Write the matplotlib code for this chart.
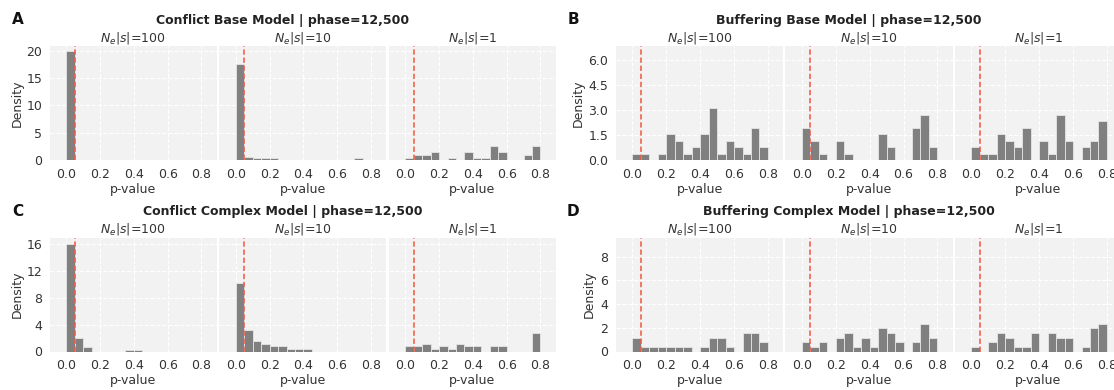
import numpy as np
import matplotlib
matplotlib.use("Agg")
from matplotlib import pyplot as plt

# bin edges of the p-value histograms (width 0.05)
bin_edges = np.linspace(0, 0.8, 17)
p_cut = 0.05
ne_labels = ["$N_e|s|$=100", "$N_e|s|$=10", "$N_e|s|$=1"]

# densities, one value per bin
conflict_base_100 = [19.9, 0, 0, 0, 0, 0, 0, 0, 0, 0, 0, 0, 0, 0, 0, 0]
conflict_base_10 = [17.5, 0.6, 0.3, 0.3, 0.3, 0, 0, 0, 0, 0, 0, 0, 0, 0, 0.3, 0]
conflict_base_1 = [0.33, 0.98, 0.98, 1.41, 0, 0.3, 0, 1.41, 0.3, 0.3, 2.64, 1.41, 0, 0, 0.98, 2.64]

buffer_base_100 = [0.39, 0.39, 0, 0.39, 1.56, 1.17, 0.39, 0.78, 1.56, 3.12, 0.39, 1.17, 0.78, 0.39, 1.95, 0.78]
buffer_base_10 = [1.95, 1.17, 0.39, 0, 1.17, 0.39, 0, 0, 0, 1.56, 0.78, 0, 0, 1.95, 2.73, 0.78]
buffer_base_1 = [0.78, 0.39, 0.39, 1.56, 1.17, 0.78, 1.95, 0, 1.17, 0.39, 2.73, 1.17, 0, 0.78, 1.17, 2.34]

conflict_cplx_100 = [15.9, 1.95, 0.7, 0, 0, 0, 0, 0.25, 0.25, 0, 0, 0, 0, 0, 0, 0]
conflict_cplx_10 = [10.1, 3.15, 1.57, 1.15, 0.76, 0.76, 0.35, 0.35, 0.35, 0, 0, 0, 0, 0, 0, 0]
conflict_cplx_1 = [0.78, 0.78, 1.17, 0.39, 0.78, 0.39, 1.17, 0.78, 0.78, 0, 0.78, 0.78, 0, 0, 0, 2.73]

buffer_cplx_100 = [1.17, 0.39, 0.39, 0.39, 0.39, 0.39, 0.39, 0, 0.39, 1.17, 1.17, 0.39, 0, 1.56, 1.56, 0.78]
buffer_cplx_10 = [0.78, 0.39, 0.78, 0, 1.17, 1.56, 0.39, 1.17, 0.39, 1.95, 1.56, 0.78, 0, 0.78, 2.34, 1.17]
buffer_cplx_1 = [0.39, 0, 0.78, 1.56, 1.17, 0.39, 0.39, 1.56, 0, 1.56, 1.17, 1.17, 0, 0.39, 1.95, 2.34]

W, H = 1114, 390
FS = 9
fig = plt.figure(figsize=(W / 100, H / 100), dpi=100)

def px_axes(left, top, width, height):
    return fig.add_axes([left / W, 1 - (top + height) / H, width / W, height / H])

def draw_panel(letter, title, series, lefts, top, width, ymax, yticks, yfmt, title_x, ylab_x):
    for i, (vals, lab) in enumerate(zip(series, ne_labels)):
        ax = px_axes(lefts[i], top, width, 114)
        ax.set_facecolor("#f2f2f2")
        ax.set_axisbelow(True)
        ax.grid(True, color="white", ls="--", lw=0.8)
        ax.bar(bin_edges[:-1], vals, width=0.05, align="edge", color="#808080",
               edgecolor="#e6e6e6", linewidth=0.6)
        ax.axvline(p_cut, color="#f0583f", ls="--", lw=1.1, dashes=(3.5, 1.8))
        ax.set_xlim(-0.097, 0.889)
        ax.set_ylim(0, ymax)
        ax.set_xticks([0, 0.2, 0.4, 0.6, 0.8])
        ax.set_xticklabels(["0.0", "0.2", "0.4", "0.6", "0.8"])
        ax.set_yticks(yticks)
        for s in ax.spines.values():
            s.set_visible(False)
        ax.tick_params(length=0, labelsize=FS, colors="#333333", pad=5.5)
        ax.set_title(lab, fontsize=FS, color="#333333", pad=3)
        ax.set_xlabel("p-value", fontsize=FS, color="#333333", labelpad=1.5)
        if i == 0:
            ax.set_yticklabels([yfmt.format(v) for v in yticks])
            ax.set_ylabel("Density", fontsize=FS, color="#333333")
            ax.yaxis.set_label_coords(ylab_x, 0.5)
        else:
            ax.set_yticklabels([])
    fig.text(title_x / W, 1 - (top - 25.5) / H, title, ha="center", va="center",
             fontsize=FS, fontweight="bold", color="#222222")
    lx = 17.5 if letter in "AC" else 573
    fig.text(lx / W, 1 - (top - 26) / H, letter, ha="center", va="center",
             fontsize=11, fontweight="bold", color="#111111")

left_cols = [50, 219.5, 389]
right_cols = [616, 785.5, 955]

draw_panel("A", "Conflict Base Model | phase=12,500",
           [conflict_base_100, conflict_base_10, conflict_base_1],
           left_cols, 46, 166.5, 20.86, [0, 5, 10, 15, 20], "{:.0f}", 283, -0.16)
draw_panel("B", "Buffering Base Model | phase=12,500",
           [buffer_base_100, buffer_base_10, buffer_base_1],
           right_cols, 46, 167, 6.84, [0, 1.5, 3.0, 4.5, 6.0], "{:.1f}", 849, -0.19)
draw_panel("C", "Conflict Complex Model | phase=12,500",
           [conflict_cplx_100, conflict_cplx_10, conflict_cplx_1],
           left_cols, 237.5, 166.5, 16.9, [0, 4, 8, 12, 16], "{:.0f}", 283, -0.16)
draw_panel("D", "Buffering Complex Model | phase=12,500",
           [buffer_cplx_100, buffer_cplx_10, buffer_cplx_1],
           right_cols, 237.5, 167, 9.6, [0, 2, 4, 6, 8], "{:.0f}", 849, -0.12)

fig.savefig("out.png", dpi=100)
